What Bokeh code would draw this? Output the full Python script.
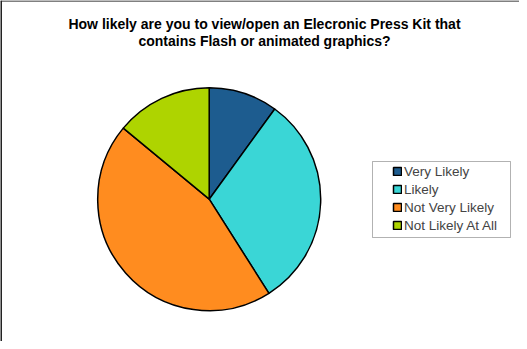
import numpy as np
from bokeh.plotting import figure
from bokeh.models import Range1d, Legend, LegendItem, BoxAnnotation, Span, ColumnDataSource
from bokeh.core.properties import value
from bokeh.embed import file_html
from bokeh.resources import INLINE

categories = ["Very Likely", "Likely", "Not Very Likely", "Not Likely At All"]
shares = [10, 31, 45, 14]
colors = ["#1d5c8f", "#3ad6d6", "#ff8c1f", "#aed400"]
title_lines = ["How likely are you to view/open an Elecronic Press Kit that",
               "contains Flash or animated graphics?"]

W, H = 519, 341
p = figure(width=W, height=H, output_backend="svg", toolbar_location=None,
           x_range=Range1d(0, W), y_range=Range1d(0, H), min_border=0)
p.axis.visible = False
p.grid.visible = False
p.outline_line_alpha = 0
p.background_fill_color = "white"
p.border_fill_color = "white"

# frame lines (top gray, left black)
p.add_layout(Span(location=H - 0.5, dimension="width", line_color="#808080", line_width=2))
p.add_layout(Span(location=0.5, dimension="height", line_color="#222222", line_width=2))

vals = np.array(shares, dtype=float)
frac = vals / vals.sum() * 2 * np.pi
cum_end = np.cumsum(frac)
cum_start = cum_end - frac
src = ColumnDataSource(dict(cat=categories, color=colors,
                            start=np.pi / 2 - cum_end, end=np.pi / 2 - cum_start))

cx, cy, r = 208.7, 142.3, 111.5
wr = p.wedge(x=cx, y=cy, radius=r, start_angle="start", end_angle="end",
             fill_color="color", line_color="black", line_width=1.5, source=src)

# title
p.text(x=[264, 264], y=[317.5, 301], text=title_lines, text_align="center",
       text_baseline="alphabetic", text_font=value("Liberation Sans"),
       text_font_style="bold", text_font_size="14px", text_color="black")

# legend box
p.add_layout(BoxAnnotation(left=372, right=510, bottom=104, top=180,
                           fill_alpha=0, line_color="black", line_width=1))

items = [LegendItem(label=c, renderers=[wr], index=i) for i, c in enumerate(categories)]
leg = Legend(items=items, location=(392, 107), padding=0, margin=0,
             spacing=0, glyph_width=10, glyph_height=10, label_height=18,
             label_standoff=2, label_text_font="Liberation Sans",
             label_text_font_size="13.5px", border_line_alpha=0,
             background_fill_alpha=0)
p.add_layout(leg)

open("out.html", "w").write(file_html(p, INLINE))
